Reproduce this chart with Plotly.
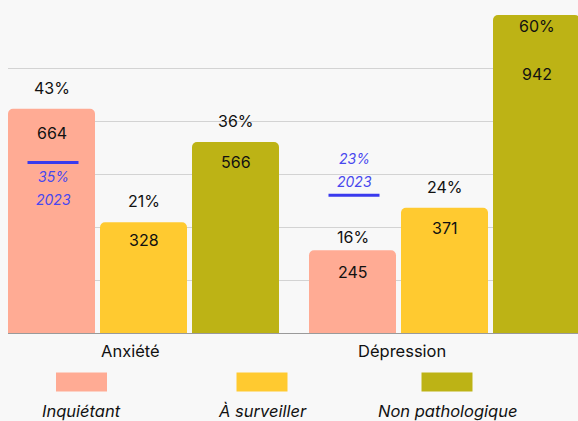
import plotly.graph_objects as go

# ---- data ----
categories = ["Anxiété", "Dépression"]
series_names = ["Inquiétant", "À surveiller", "Non pathologique"]
inquietant = [664, 245]
a_surveiller = [328, 371]
non_patho = [566, 942]
pct_inquietant = ["43%", "16%"]
pct_a_surveiller = ["21%", "24%"]
pct_non_patho = ["36%", "60%"]
ref_2023_pct = ["35%", "23%"]      # 2023 reference for "Inquiétant"
ref_2023_level = [505, 408]        # vertical level of the 2023 marker (axis units)

colors = ["#FFAB94", "#FFCA30", "#BDB315"]
blue = "#3A3AEE"
bg = "#F8F8F8"
FONT = "Inter"

values = [inquietant, a_surveiller, non_patho]
pcts = [pct_inquietant, pct_a_surveiller, pct_non_patho]

fig = go.Figure()
for name, vals, col in zip(series_names, values, colors):
    fig.add_trace(go.Bar(
        name=name, x=categories, y=vals,
        marker=dict(color=col, cornerradius=5, line=dict(width=0)),
        showlegend=False, hoverinfo="skip",
    ))

# layout geometry
L, R, T, B = 8, 0, 15, 88
W, H = 578, 421
plot_w = W - L - R
plot_h = H - T - B
ymax = 942

# bar offsets within group (category units)
slot = 92 / 301.0
offsets = [-slot, 0, slot]

annotations = []
shapes = []

# percentage labels above bars and value labels inside bars
pct_shift = {(2, 1): -11, (0, 1): 13}
val_shift = {(2, 1): -59, (0, 0): -24, (1, 0): -18, (0, 1): -22}
for s in range(3):
    for c in range(2):
        v = values[s][c]
        x = c + offsets[s]
        annotations.append(dict(
            x=x, y=v, xref="x", yref="y", text=pcts[s][c], showarrow=False,
            xanchor="center", yanchor="middle", yshift=pct_shift.get((s, c), 21),
            font=dict(family=FONT, size=16, color="#111111")))
        annotations.append(dict(
            x=x, y=v, xref="x", yref="y", text=str(v), showarrow=False,
            xanchor="center", yanchor="middle", yshift=val_shift.get((s, c), -20),
            font=dict(family=FONT, size=16, color="#111111")))

# 2023 reference markers on "Inquiétant"
half = 25.5 / 301.0
ref_text_shift = [(-14, -37), (37, 14)]
for c in range(2):
    x = c + offsets[0] + 0.005
    shapes.append(dict(type="line", xref="x", yref="y",
                       x0=x - half, x1=x + half,
                       y0=ref_2023_level[c], y1=ref_2023_level[c],
                       line=dict(color=blue, width=3)))
    for txt, sh in zip([ref_2023_pct[c], "2023"], ref_text_shift[c]):
        annotations.append(dict(
            x=x, y=ref_2023_level[c], xref="x", yref="y", text=f"<i>{txt}</i>",
            showarrow=False, xanchor="center", yanchor="middle", yshift=sh,
            font=dict(family=FONT, size=14, color="#4848EE")))

# category labels
cat_xshift = [-13, -43]
for c, lab in enumerate(categories):
    annotations.append(dict(
        x=c, y=0, xref="x", yref="y", text=lab, showarrow=False,
        xanchor="center", yanchor="middle", yshift=-18, xshift=cat_xshift[c],
        font=dict(family=FONT, size=16.5, color="#111111")))

# custom legend (swatch above italic label)
legend_centers = [81.5, 262, 447]
def px_x(px):
    return (px - L) / plot_w
def px_y(py):
    return (H - B - py) / plot_h
for name, col, cx in zip(series_names, colors, legend_centers):
    shapes.append(dict(type="rect", xref="paper", yref="paper",
                       x0=px_x(cx - 25.5), x1=px_x(cx + 25.5),
                       y0=px_y(391.5), y1=px_y(372.5),
                       fillcolor=col, line=dict(width=0)))
    annotations.append(dict(
        x=px_x(cx), y=px_y(410.5), xref="paper", yref="paper",
        text=f"<i>{name}</i>", showarrow=False,
        xanchor="center", yanchor="middle",
        font=dict(family=FONT, size=16.5, color="#111111")))

px_per_cat = 301.0
x_left = (L - 143.5) / px_per_cat
x_right = x_left + plot_w / px_per_cat

fig.update_layout(
    width=W, height=H,
    margin=dict(l=L, r=R, t=T, b=B, pad=0),
    paper_bgcolor=bg, plot_bgcolor=bg,
    barmode="group", bargap=1 - 276 / 301.0, bargroupgap=5 / 92.0,
    font=dict(family=FONT, size=16, color="#111111"),
    xaxis=dict(range=[x_left, x_right], showticklabels=False, showgrid=False,
               showline=True, linecolor="#9A9A9A", linewidth=1, zeroline=False,
               fixedrange=True),
    yaxis=dict(range=[0, ymax], tickvals=[ymax / 6 * k for k in range(1, 7)],
               showticklabels=False, showgrid=True, gridcolor="#D3D3D3",
               gridwidth=1, zeroline=False, showline=False, fixedrange=True),
    annotations=annotations, shapes=shapes,
)

fig.write_html(
    "out.html",
    config={"displayModeBar": False},
    post_script="document.body.style.margin='0';document.body.style.padding='0';"
                "document.body.style.overflow='hidden';"
                "document.body.style.background='#F8F8F8';",
)
